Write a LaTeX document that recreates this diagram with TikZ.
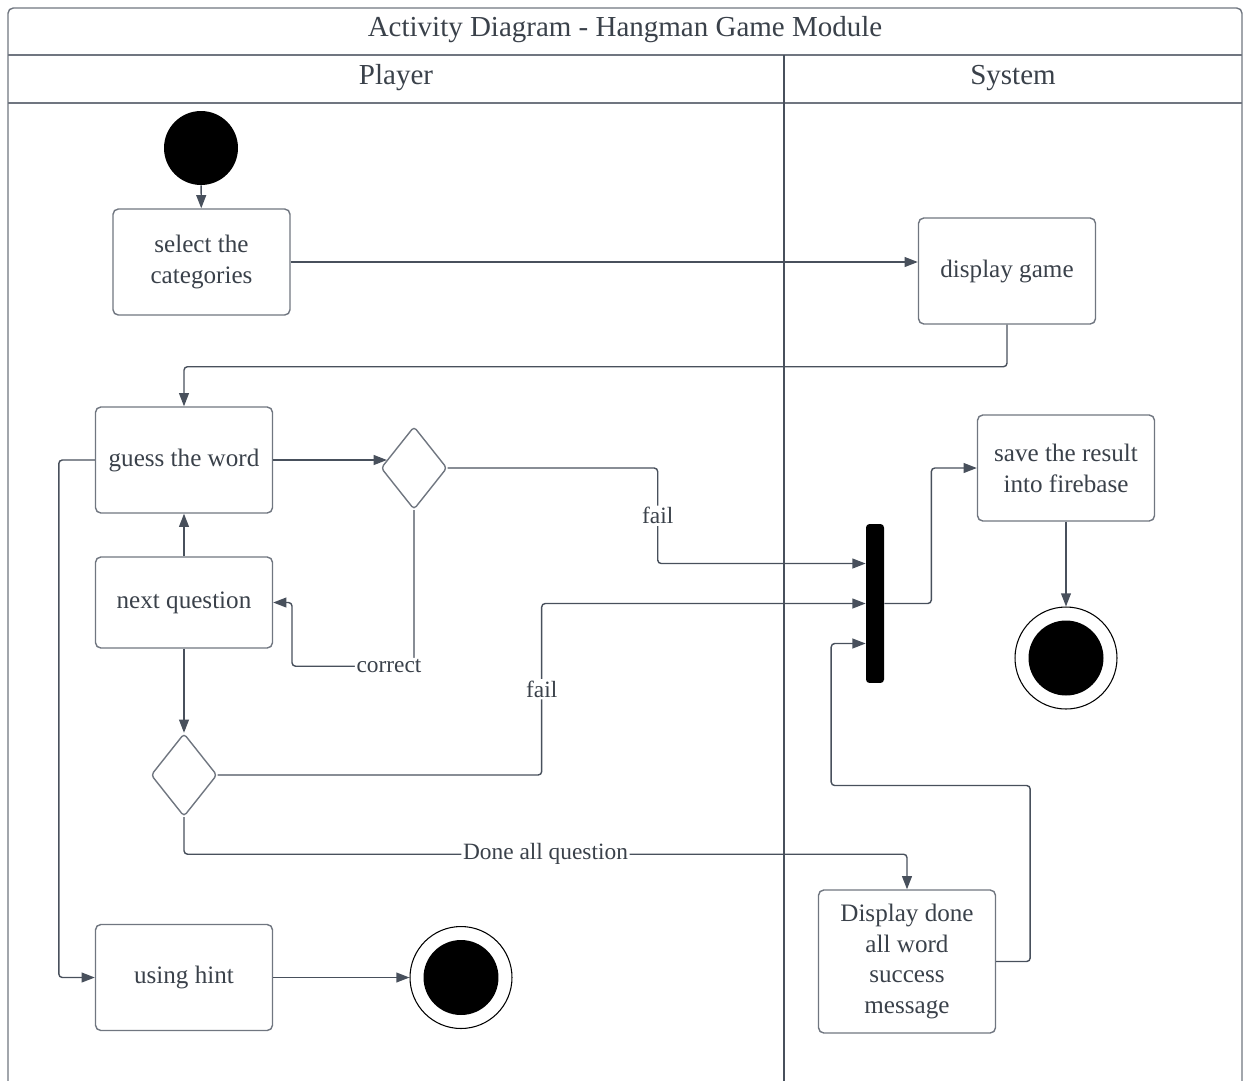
\documentclass[tikz,border=0pt]{standalone}
\usepackage{fontspec}
\setmainfont{Liberation Serif}
\usetikzlibrary{arrows.meta, positioning, calc, shapes.geometric}
\definecolor{lineGray}{RGB}{72, 80, 92}
\definecolor{boxGray}{RGB}{112, 118, 128}
\definecolor{textGray}{RGB}{58, 65, 74}

\begin{document}
\begin{tikzpicture}[x=0.02cm, y=-0.02cm,
  action/.style={rectangle, rounded corners=3pt, draw=boxGray, line width=0.8pt,
    minimum width=3.54cm, minimum height=2.12cm, text=textGray, align=center,
    font=\fontsize{14.3}{17.6}\selectfont},
  choice/.style={diamond, rounded corners=2pt, draw=boxGray, line width=0.8pt,
    minimum width=1.32cm, minimum height=1.66cm, inner sep=0pt},
  startnode/.style={circle, fill=black, minimum size=1.48cm, inner sep=0pt},
  endring/.style={circle, draw=black, line width=0.6pt, minimum size=2.04cm, inner sep=0pt},
  enddot/.style={circle, fill=black, minimum size=1.5cm, inner sep=0pt},
  joinbar/.style={rectangle, rounded corners=2pt, fill=black, minimum width=0.36cm,
    minimum height=3.18cm, inner sep=0pt},
  lane/.style={text=textGray, font=\fontsize{16.5}{20}\selectfont},
  lbl/.style={fill=white, inner sep=1pt, text=textGray, font=\fontsize{13.3}{16}\selectfont},
  flow/.style={draw=lineGray, line width=0.8pt, rounded corners=2pt,
    -{Triangle[length=7.5pt, width=5.6pt]}}
]
\useasboundingbox (0,0) rectangle (1248,1080);

% Frame and lanes
\draw[boxGray, line width=0.8pt, rounded corners=3pt] (8,1090) -- (8,8) -- (1242,8) -- (1242,1090);
\draw[boxGray, line width=0.8pt] (8,55) -- (1242,55);
\draw[boxGray, line width=0.8pt] (8,103) -- (1242,103);
\draw[lineGray, line width=0.6pt] (784,55) -- (784,1090);
\node[lane] (title) at (625,30) {Activity Diagram - Hangman Game Module};
\node[lane] (player) at (396,78) {Player};
\node[lane] (system) at (1013,78) {System};

% Player lane
\node[startnode] (start) at (201,148) {};
\node[action] (select) at (201.5,262) {select the\\categories};
\node[action] (guess) at (184,460) {guess the word};
\node[choice] (d1) at (414,468) {};
\node[action, minimum height=1.82cm] (next) at (184,602.5) {next question};
\node[choice] (d2) at (184,775) {};
\node[action] (hint) at (184,977.5) {using hint};
\node[endring] (end2) at (461,977.5) {};
\node[enddot] (end2dot) at (461,977.5) {};

% System lane
\node[action] (display) at (1007,271) {display game};
\node[joinbar] (bar) at (875,603.5) {};
\node[action] (save) at (1066,468) {save the result\\into firebase};
\node[endring] (end1) at (1066,658) {};
\node[enddot] (end1dot) at (1066,658) {};
\node[action, minimum height=2.86cm] (done) at (907,961.5) {Display done\\all word\\success\\message};

% Flows
\draw[flow] (start) -- (select);
\draw[flow] (select.east) -- (select.east -| display.west);
\draw[flow] (display.south) -- ++(0,42) -| (guess.north);
\draw[flow] (guess.east) -- (guess.east -| d1.163);
\draw[flow] (d1.east) -- ++(210,0) |- node[lbl, pos=0.25] {fail} ([yshift=0.8cm]bar.west);
\draw[flow] (d1.south) -- ++(0,156) -- node[lbl, pos=0.205] {correct} ++(-122,0) |- (next.east);
\draw[flow] (next) -- (guess);
\draw[flow] (next) -- (d2);
\draw[flow] (d2.east) -- ++(324,0) |- node[lbl, pos=0.25] {fail} (bar.west);
\draw[flow] (d2.south) -- ++(0,37) -| node[lbl, pos=0.25] {Done all question} (done.north);
\draw[flow] (done.east) -- ++(34,0) -- ++(0,-176) -- ++(-199,0) |- ([yshift=-0.8cm]bar.west);
\draw[flow] (bar.east) -- ++(47,0) |- (save.west);
\draw[flow] (save) -- (end1);
\draw[flow] (guess.west) -- ++(-36,0) |- (hint.west);
\draw[flow] (hint) -- (end2);
\end{tikzpicture}
\end{document}
